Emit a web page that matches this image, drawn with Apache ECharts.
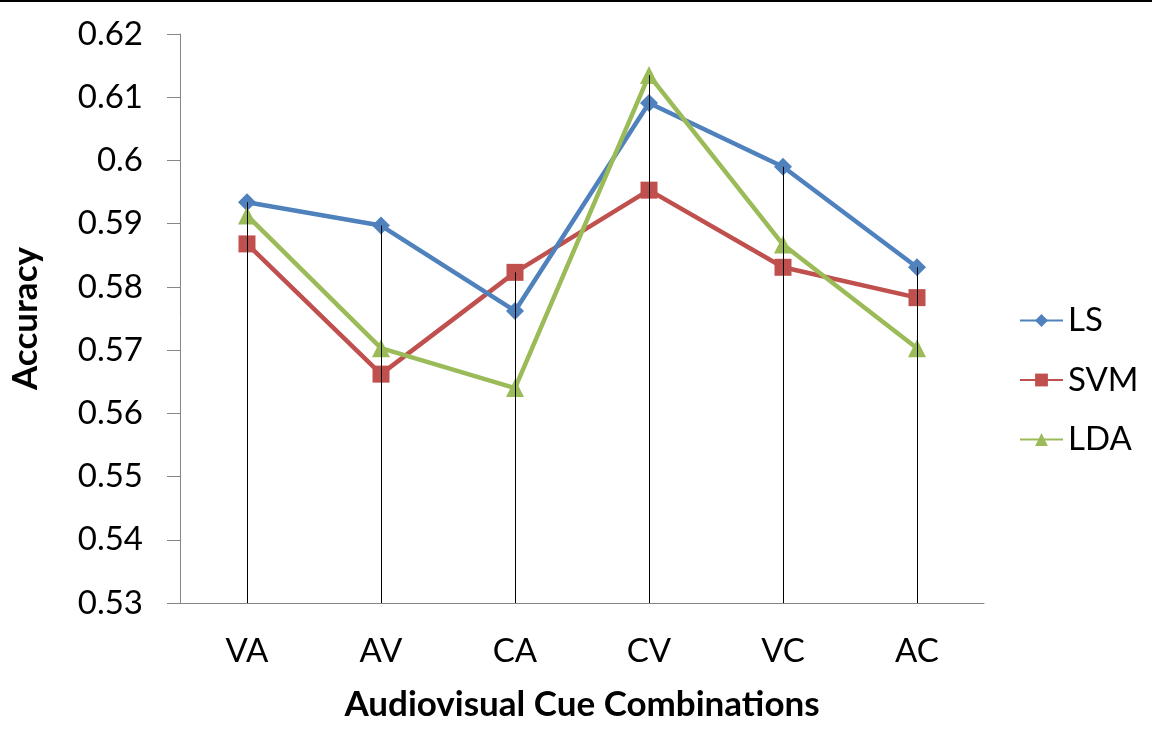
<!DOCTYPE html>
<html>
<head>
<meta charset="utf-8">
<script src="https://cdn.jsdelivr.net/npm/echarts@6/dist/echarts.min.js"></script>
<style>html,body{margin:0;padding:0;background:#fff;}#c{width:1152px;height:751px;}</style>
</head>
<body>
<div id="c"></div>
<script>
const categories = ['VA', 'AV', 'CA', 'CV', 'VC', 'AC'];
const lsValues  = [0.5934, 0.5897, 0.5762, 0.6091, 0.5990, 0.5831];
const svmValues = [0.5868, 0.5662, 0.5823, 0.5953, 0.5831, 0.5783];
const ldaValues = [0.5913, 0.5703, 0.5640, 0.6135, 0.5867, 0.5703];
const yMin = 0.53, yMax = 0.62, yStep = 0.01;

const FONT = 'Lato';
const dropData = categories.map((c, i) => [i, Math.max(lsValues[i], svmValues[i], ldaValues[i])]);

const chart = echarts.init(document.getElementById('c'), null, {renderer: 'canvas'});
chart.setOption({
  animation: false,
  backgroundColor: '#ffffff',
  textStyle: {fontFamily: FONT},
  graphic: [{
    type: 'line', shape: {x1: 0, y1: 1, x2: 1152, y2: 1},
    style: {stroke: '#000', lineWidth: 2}
  }],
  grid: {left: 180, right: 168, top: 34, bottom: 148, containLabel: false, outerBoundsMode: 'none'},
  legend: {
    orient: 'vertical', left: 1014, top: 299,
    itemWidth: 43, itemHeight: 16, itemGap: 26.5,
    textStyle: {fontFamily: FONT, fontSize: 33, color: '#000', lineHeight: 32},
    data: ['LS', 'SVM', 'LDA']
  },
  xAxis: {
    type: 'category', data: categories, boundaryGap: true,
    axisLine: {lineStyle: {color: '#868686', width: 1}},
    axisTick: {show: false},
    axisLabel: {fontFamily: FONT, fontSize: 33, color: '#000', margin: 32},
    name: 'Audiovisual Cue Combinations', nameLocation: 'middle', nameGap: 84,
    nameTextStyle: {fontFamily: FONT, fontSize: 35, fontWeight: 'bold', color: '#000'}
  },
  yAxis: {
    type: 'value', min: yMin, max: yMax, interval: yStep,
    axisLine: {show: true, lineStyle: {color: '#868686', width: 1}},
    axisTick: {show: true, inside: false, length: 13, lineStyle: {color: '#868686'}},
    splitLine: {show: false},
    axisLabel: {fontFamily: FONT, fontSize: 33, color: '#000', margin: 37,
      formatter: v => String(Math.round(v * 100) / 100)},
    name: 'Accuracy', nameLocation: 'middle', nameGap: 137, nameRotate: 90,
    nameTextStyle: {fontFamily: FONT, fontSize: 35, fontWeight: 'bold', color: '#000'}
  },
  series: [
    {name: 'LS', type: 'line', data: lsValues, symbol: 'diamond', symbolSize: 18,
     lineStyle: {color: '#4F81BD', width: 4.5}, itemStyle: {color: '#4F81BD'}, z: 3},
    {name: 'SVM', type: 'line', data: svmValues, symbol: 'rect', symbolSize: 17,
     lineStyle: {color: '#C0504D', width: 4.5}, itemStyle: {color: '#C0504D'}, z: 2},
    {name: 'LDA', type: 'line', data: ldaValues, symbol: 'triangle', symbolSize: 18,
     lineStyle: {color: '#9BBB59', width: 4.5}, itemStyle: {color: '#9BBB59'}, z: 4},
    {name: 'drop', type: 'custom', data: dropData, z: 10, silent: true,
     renderItem: function (params, api) {
       const top = api.coord([api.value(0), api.value(1)]);
       const bot = api.coord([api.value(0), yMin]);
       const x = Math.round(top[0]) + 0.5;
       return {type: 'line', shape: {x1: x, y1: top[1], x2: x, y2: bot[1]},
               style: {stroke: '#000', lineWidth: 1}};
     }}
  ]
});
</script>
</body>
</html>
